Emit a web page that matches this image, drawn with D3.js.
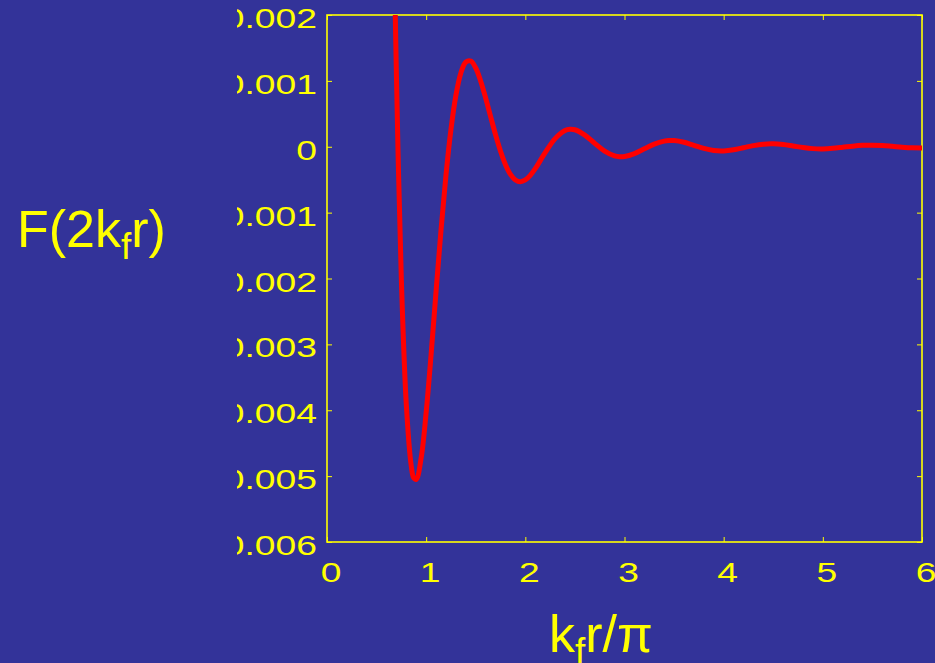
<!DOCTYPE html>
<html lang="en">
<head>
    <meta charset="UTF-8">
    <title>F(2kfr)</title>
    <style>
        html, body { margin: 0; padding: 0; background: rgb(51,51,153); }
        svg { display: block; }
        text { font-family: "Liberation Sans", Arial, sans-serif; fill: #ffff00; }
    </style>
</head>
<body>
    <div id="chart"></div>

    <script src="https://d3js.org/d3.v7.min.js"></script>
    <script>
        const w = 935;
        const h = 663;

        // tick values and labels
        const xTicks = [0, 1, 2, 3, 4, 5, 6];
        const xTickLabels = ['0', '1', '2', '3', '4', '5', '6'];
        const yTicks = [0.002, 0.001, 0, -0.001, -0.002, -0.003, -0.004, -0.005, -0.006];
        const yTickLabels = ['0.002', '0.001', '0', '-0.001', '-0.002', '-0.003', '-0.004', '-0.005', '-0.006'];

        // curve: kf r / pi  vs  F(2 kf r)
        const kfrOverPi = [0.66, 0.68, 0.69, 0.70, 0.72, 0.75, 0.80, 0.85, 0.875, 0.90, 0.95,
            1.00, 1.05, 1.10, 1.15, 1.20, 1.25, 1.30, 1.35, 1.40, 1.45, 1.50, 1.55, 1.60, 1.65,
            1.70, 1.75, 1.80, 1.85, 1.90, 1.95, 2.00, 2.05, 2.10, 2.20, 2.30, 2.40, 2.45, 2.50,
            2.60, 2.70, 2.80, 2.90, 2.95, 3.00, 3.10, 3.20, 3.30, 3.40, 3.45, 3.50, 3.60, 3.70,
            3.80, 3.90, 4.00, 4.10, 4.20, 4.30, 4.40, 4.50, 4.60, 4.70, 4.80, 4.90, 5.00, 5.10,
            5.20, 5.30, 5.40, 5.50, 5.60, 5.70, 5.80, 5.90, 6.00];
        const fValues = [0.00466, 0.00274, 0.00188, 0.00109, -0.00032, -0.00203, -0.00392, -0.00485, -0.00503, -0.00505, -0.00472,
            -0.00403, -0.00315, -0.00219, -0.00126, -0.000427, 0.000263, 0.000781, 0.00112, 0.001287, 0.001302, 0.001195, 0.000995, 0.000739, 0.000458,
            0.000181, -0.0000684, -0.000272, -0.000419, -0.000504, -0.000531, -0.000504, -0.000434, -0.000333, -0.0000909, 0.000124, 0.000247, 0.000266, 0.000258,
            0.000177, 0.0000518, -0.0000667, -0.000139, -0.000152, -0.000149, -0.000105, -0.0000322, 0.0000398, 0.0000858, 0.0000948, 0.0000940, 0.0000677, 0.0000213,
            -0.0000256, -0.0000566, -0.0000630, -0.0000460, -0.0000149, 0.0000175, 0.0000393, 0.0000442, 0.0000327, 0.0000107, -0.0000124, -0.0000284, -0.0000323, -0.0000240,
            -0.0000080, 0.0000091, 0.0000212, 0.0000242, 0.0000182, 0.0000061, -0.0000069, -0.0000162, -0.0000187];

        const dataset = kfrOverPi.map((d, i) => ({ x: d, y: fValues[i] }));

        const plot = { left: 327, right: 922, top: 15, bottom: 542 };

        const xScale = d3.scaleLinear()
            .domain([0, 6])
            .range([plot.left, plot.right]);

        const yScale = d3.scaleLinear()
            .domain([-0.006, 0.002])
            .range([plot.bottom, plot.top]);

        const svg = d3.select('#chart')
            .append('svg')
            .attr('width', w)
            .attr('height', h);

        svg.append('rect')
            .attr('width', w)
            .attr('height', h)
            .attr('fill', 'rgb(51,51,153)');

        const defs = svg.append('defs');
        defs.append('clipPath').attr('id', 'plot-clip')
            .append('rect')
            .attr('x', plot.left)
            .attr('y', plot.top)
            .attr('width', plot.right - plot.left)
            .attr('height', plot.bottom - plot.top);
        // the figure was cropped on the left: y labels are cut off
        defs.append('clipPath').attr('id', 'label-clip')
            .append('rect')
            .attr('x', 237)
            .attr('y', 0)
            .attr('width', w - 237)
            .attr('height', h);

        // tick marks, inward on all four sides
        const tickLen = 5;
        const axisStyle = g => {
            g.select('.domain').remove();
            g.selectAll('.tick line').attr('stroke', '#ffff00').attr('stroke-width', 1);
            g.selectAll('.tick text').remove();
        };
        svg.append('g')
            .attr('transform', `translate(0,${plot.bottom})`)
            .call(d3.axisBottom(xScale).tickValues(xTicks).tickSize(-tickLen))
            .call(axisStyle);
        svg.append('g')
            .attr('transform', `translate(0,${plot.top})`)
            .call(d3.axisTop(xScale).tickValues(xTicks).tickSize(-tickLen))
            .call(axisStyle);
        svg.append('g')
            .attr('transform', `translate(${plot.left},0)`)
            .call(d3.axisLeft(yScale).tickValues(yTicks).tickSize(-tickLen))
            .call(axisStyle);
        svg.append('g')
            .attr('transform', `translate(${plot.right},0)`)
            .call(d3.axisRight(yScale).tickValues(yTicks).tickSize(-tickLen))
            .call(axisStyle);

        // frame
        svg.append('rect')
            .attr('x', plot.left)
            .attr('y', plot.top)
            .attr('width', plot.right - plot.left)
            .attr('height', plot.bottom - plot.top)
            .attr('fill', 'none')
            .attr('stroke', '#ffff00')
            .attr('stroke-width', 1.6);

        // tick labels (horizontally stretched like the pasted figure)
        const stretch = 1.33;
        svg.append('g')
            .attr('clip-path', 'url(#label-clip)')
            .selectAll('text')
            .data(yTicks)
            .enter()
            .append('text')
            .attr('transform', d => `translate(317,${yScale(d) + 13}) scale(${stretch},1)`)
            .attr('text-anchor', 'end')
            .style('font-size', '28px')
            .text((d, i) => yTickLabels[i]);

        svg.append('g')
            .selectAll('text')
            .data(xTicks)
            .enter()
            .append('text')
            .attr('transform', d => `translate(${xScale(d) + 4},581.5) scale(${stretch},1)`)
            .attr('text-anchor', 'middle')
            .style('font-size', '28px')
            .text((d, i) => xTickLabels[i]);

        // the curve
        const line = d3.line()
            .x(d => xScale(d.x))
            .y(d => yScale(d.y))
            .curve(d3.curveCatmullRom.alpha(0.5));

        svg.append('path')
            .datum(dataset)
            .attr('clip-path', 'url(#plot-clip)')
            .attr('d', line)
            .attr('fill', 'none')
            .attr('stroke', '#ff0000')
            .attr('stroke-width', 5)
            .attr('stroke-linejoin', 'round');

        // axis titles
        const yTitle = svg.append('text')
            .attr('x', 17)
            .attr('y', 247)
            .style('font-size', '52px');
        yTitle.append('tspan').text('F(2k');
        yTitle.append('tspan').attr('dy', 12).style('font-size', '37px').text('f');
        yTitle.append('tspan').attr('dy', -12).text('r)');

        const xTitle = svg.append('text')
            .attr('x', 549)
            .attr('y', 652)
            .style('font-size', '52px');
        xTitle.append('tspan').text('k');
        xTitle.append('tspan').attr('dy', 12).style('font-size', '37px').text('f');
        xTitle.append('tspan').attr('dy', -12).text('r/\u03c0');
    </script>
</body>
</html>
